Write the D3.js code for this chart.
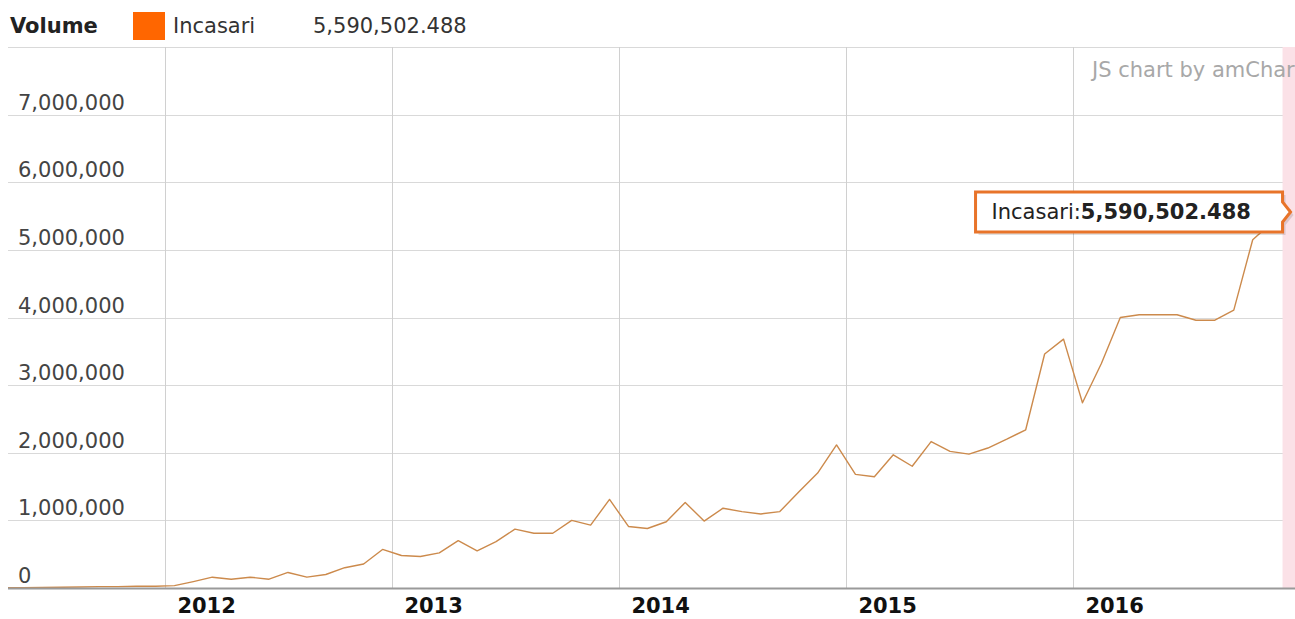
<!DOCTYPE html>
<html>
<head>
<meta charset="utf-8">
<script src="https://cdn.jsdelivr.net/npm/d3@7"></script>
<style>
  body { margin: 0; background: #fff; overflow: hidden; }
  svg { display: block; }
</style>
</head>
<body>
<svg id="chart" width="1295" height="619"></svg>
<script>
// months shown on the category axis
var months = [
  "2011-04", "2011-05", "2011-06", "2011-07", "2011-08", "2011-09", "2011-10", "2011-11", "2011-12",
  "2012-01", "2012-02", "2012-03", "2012-04", "2012-05", "2012-06", "2012-07", "2012-08", "2012-09", "2012-10", "2012-11", "2012-12",
  "2013-01", "2013-02", "2013-03", "2013-04", "2013-05", "2013-06", "2013-07", "2013-08", "2013-09", "2013-10", "2013-11", "2013-12",
  "2014-01", "2014-02", "2014-03", "2014-04", "2014-05", "2014-06", "2014-07", "2014-08", "2014-09", "2014-10", "2014-11", "2014-12",
  "2015-01", "2015-02", "2015-03", "2015-04", "2015-05", "2015-06", "2015-07", "2015-08", "2015-09", "2015-10", "2015-11", "2015-12",
  "2016-01", "2016-02", "2016-03", "2016-04", "2016-05", "2016-06", "2016-07", "2016-08", "2016-09", "2016-10", "2016-11", "2016-12"
]
// Incasari
var incasari = [
  5000, 5000, 8000, 10000, 15000, 20000, 20000, 25000, 25000,
  35000, 95000, 160000, 130000, 160000, 130000, 230000, 160000, 200000, 300000, 355000, 570000,
  480000, 465000, 520000, 700000, 550000, 685000, 870000, 810000, 810000, 1000000, 930000, 1310000,
  910000, 880000, 980000, 1265000, 990000, 1180000, 1130000, 1095000, 1130000, 1420000, 1700000, 2115000,
  1680000, 1645000, 1970000, 1800000, 2165000, 2020000, 1980000, 2070000, 2200000, 2340000, 3460000, 3680000,
  2740000, 3320000, 4000000, 4040000, 4040000, 4040000, 3960000, 3960000, 4110000, 5150000, 5400000, 5590502.488
]
var yTicks = [0, 1000000, 2000000, 3000000, 4000000, 5000000, 6000000, 7000000, 8000000]
var yLabels = [0, 1000000, 2000000, 3000000, 4000000, 5000000, 6000000, 7000000]
var yearTicks = ["2012", "2013", "2014", "2015", "2016"]
var seriesName = "Incasari"
var legendTitle = "Volume"
var watermark = "JS chart by amCharts"

var lineColor = "#cc8a4c"
var swatchColor = "#ff6600"
var font = "'DejaVu Sans', Verdana, sans-serif"

var svg = d3.select("#chart")
var W = 1295, H = 619
var plot = { left: 8, top: 47, bottom: 588, right: W }

// month index, 0 = Jan 2012
function monthIndex(s) {
    var p = s.split("-")
    return (+p[0] - 2012) * 12 + (+p[1] - 1)
}

var x = d3.scaleLinear().domain([0, 48]).range([165, 1073])
var y = d3.scaleLinear().domain([0, 8000000]).range([plot.bottom, plot.top])

var data = months.map(function(m, i) { return { idx: monthIndex(m) + 0.5, value: incasari[i] } })

svg.append("defs").append("clipPath").attr("id", "clip")
    .append("rect")
    .attr("x", plot.left).attr("y", plot.top - 2)
    .attr("width", plot.right - plot.left).attr("height", plot.bottom - plot.top + 2)

// horizontal gridlines
svg.append("g")
    .selectAll("line")
    .data(yTicks)
    .enter().append("line")
    .attr("x1", plot.left).attr("x2", plot.right)
    .attr("y1", function(d) { return Math.round(y(d)) + 0.5 })
    .attr("y2", function(d) { return Math.round(y(d)) + 0.5 })
    .style("stroke", "#d9d9d9")
    .style("stroke-width", 1)

// vertical gridlines at year starts
svg.append("g")
    .selectAll("line")
    .data(yearTicks)
    .enter().append("line")
    .attr("x1", function(d) { return Math.round(x((+d - 2012) * 12)) + 0.5 })
    .attr("x2", function(d) { return Math.round(x((+d - 2012) * 12)) + 0.5 })
    .attr("y1", plot.top).attr("y2", plot.bottom)
    .style("stroke", "#d0d0d0")
    .style("stroke-width", 1)

// cursor band
var last = data[data.length - 1]
svg.append("rect")
    .attr("x", x(last.idx) - 8).attr("y", plot.top)
    .attr("width", 16).attr("height", plot.bottom - plot.top)
    .style("fill", "#fbe1e7")

// watermark
svg.append("text")
    .attr("x", 1092).attr("y", 77)
    .style("font-family", font).style("font-size", "21px")
    .style("fill", "#a8a8a8")
    .text(watermark)

// y labels
svg.append("g")
    .selectAll("text")
    .data(yLabels)
    .enter().append("text")
    .attr("x", 18)
    .attr("y", function(d) { return y(d) - 5 })
    .style("font-family", font).style("font-size", "21px")
    .style("fill", "#444")
    .text(function(d) { return d3.format(",")(d) })

// the line
var line = d3.line()
    .x(function(d) { return x(d.idx) })
    .y(function(d) { return y(d.value) })

svg.append("path")
    .datum(data)
    .attr("clip-path", "url(#clip)")
    .attr("d", line)
    .style("fill", "none")
    .style("stroke", lineColor)
    .style("stroke-width", 1.4)
    .style("stroke-linejoin", "round")

// x axis line
svg.append("line")
    .attr("x1", plot.left).attr("x2", plot.right)
    .attr("y1", plot.bottom + 0.5).attr("y2", plot.bottom + 0.5)
    .style("stroke", "#9a9a9a")
    .style("stroke-width", 2)

// year labels
svg.append("g")
    .selectAll("text")
    .data(yearTicks)
    .enter().append("text")
    .attr("x", function(d) { return x((+d - 2012) * 12 + 2.2) })
    .attr("y", 613)
    .attr("text-anchor", "middle")
    .style("font-family", font).style("font-size", "21px").style("font-weight", "bold")
    .style("fill", "#111")
    .text(function(d) { return d })

// legend
var legend = svg.append("g")
legend.append("text")
    .attr("x", 10).attr("y", 33)
    .style("font-family", font).style("font-size", "21px").style("font-weight", "bold")
    .style("fill", "#222")
    .text(legendTitle)
legend.append("rect")
    .attr("x", 133).attr("y", 12).attr("width", 32).attr("height", 28)
    .style("fill", swatchColor)
legend.append("text")
    .attr("x", 173).attr("y", 33)
    .style("font-family", font).style("font-size", "21px")
    .style("fill", "#333")
    .text(seriesName)
legend.append("text")
    .attr("x", 313).attr("y", 33)
    .style("font-family", font).style("font-size", "21px")
    .style("fill", "#333")
    .text(d3.format(",.3f")(last.value))

// balloon at the last point
var px = x(last.idx), py = y(last.value)
var bw = 307, bh = 40, gap = 8
var bx = px - gap - bw, by = py - bh / 2 + 2
var balloon = svg.append("g")
var shape = "M" + bx + "," + by +
    "H" + (bx + bw) +
    "V" + (by + 10) +
    "L" + (px) + "," + (by + bh / 2) +
    "L" + (bx + bw) + "," + (by + bh - 10) +
    "V" + (by + bh) +
    "H" + bx + "Z"
balloon.append("path")
    .attr("d", shape)
    .attr("transform", "translate(3,3)")
    .style("fill", "#000").style("opacity", 0.12)
balloon.append("path")
    .attr("d", shape)
    .style("fill", "#fff")
    .style("stroke", "#e8742a")
    .style("stroke-width", 3)
var bt = balloon.append("text")
    .attr("x", bx + 16).attr("y", by + bh / 2 + 7)
    .style("font-family", font).style("font-size", "21px")
    .style("fill", "#222")
bt.append("tspan").text(seriesName + ":")
bt.append("tspan").style("font-weight", "bold").text(d3.format(",.3f")(last.value))
</script>
</body>
</html>
